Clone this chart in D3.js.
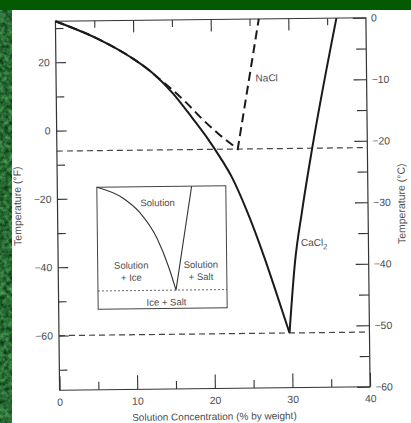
<!DOCTYPE html>
<html><head><meta charset="utf-8">
<script src="https://cdn.jsdelivr.net/npm/d3@7"></script>
<style>
body{margin:0;background:#fff}
svg{display:block}
text{font-family:"Liberation Sans",Arial,Helvetica,sans-serif}
</style>
</head><body>
<svg id="c" width="411" height="423"></svg>
<script>
// ---------- data (concentration % by weight, temperature °F) ----------
const cacl2IceLine  = [[0,32],[5.7,26.4],[9.6,21.3],[12.4,16.6],[15,10.6],[17.6,2.9],[19.4,-2.7],[21,-8.3],[22.5,-14.2],[24.4,-24.2],[26.6,-38],[28.1,-48.5],[29.7,-60]];
const cacl2SaltLine = [[29.7,-60],[30.5,-39.5],[31.5,-24.3],[32.9,-5.9],[36.2,32]];
const naclIceLine   = [[0,32],[5.7,26.4],[9.6,21.3],[12.4,16.6],[13,15.4],[15,11.5],[16.8,7.6],[18.9,2.6],[21,-1.8],[23.3,-6]];
const naclSaltLine  = [[23.3,-6],[26.2,32]];
const eutecticTempsF = [-6,-60];
const seriesLabels = ["NaCl","CaCl"];
const seriesLabelPos = [[25.7,13.7],[31.3,-34.6]];

// tick values
const xMinorTicks = [5,15,25,35];
const xMajorTicks = [0,10,20,30,40];
const fMinorTicks = [30,10,-10,-30,-50,-70];
const fMajorTicks = [20,0,-20,-40,-60];
const cMinorTicks = [-5,-15,-25,-35,-45,-55];
const cMajorTicks = [0,-10,-20,-30,-40,-50,-60];

// inset schematic (arbitrary 0-100 units)
const insetIceLine  = [[0,100],[20,91],[33,79],[46.5,57],[55,34],[60.5,15]];
const insetSaltLine = [[60.5,15],[73.5,100]];
const insetEutectic = 15;
const insetTexts = ["Solution","Solution","+ Ice","Solution","+ Salt","Ice + Salt"];
const insetTextPos = [[47,84],[26,33],[26,23],[80,33],[80,23],[53,2.5]];

// ---------- drawing ----------
const W = 411, H = 423;
const svg = d3.select("#c");
const defs = svg.append("defs");
const flt = defs.append("filter").attr("id","tex").attr("x",0).attr("y",0).attr("width","100%").attr("height","100%")
   .attr("color-interpolation-filters","sRGB");
flt.append("feTurbulence").attr("type","fractalNoise").attr("baseFrequency","0.22").attr("numOctaves",3).attr("seed",7).attr("result","n");
flt.append("feColorMatrix").attr("in","n").attr("type","matrix")
   .attr("values","0.4 0 0 0 -0.04  0.6 0 0 0 0.12  0.4 0 0 0 0.0  0 0 0 0 1");

svg.append("rect").attr("width",W).attr("height",H).attr("fill","#fff");
svg.append("rect").attr("x",0).attr("y",10).attr("width",12).attr("height",H-10).attr("filter","url(#tex)");
svg.append("rect").attr("x",0).attr("y",0).attr("width",W).attr("height",10).attr("fill","#035a03");

const L = 57.5, R = 368, T = 19.5, B = 388.5;
const x  = d3.scaleLinear().domain([0,40]).range([L,R]);
const yF = d3.scaleLinear().domain([-76,32]).range([B,T]);
const yC = d3.scaleLinear().domain([-60,0]).range([B,T]);

const g = svg.append("g").attr("transform","rotate(-0.65 212 204)");
const ink = "#1a1a1a", grey = "#4d4d4d";

// frame
g.append("rect").attr("x",L).attr("y",T).attr("width",R-L).attr("height",B-T)
 .attr("fill","none").attr("stroke","#333").attr("stroke-width",1.2);

function styleAxis(sel){
  sel.select(".domain").remove();
  sel.selectAll(".tick line").attr("stroke","#333").attr("stroke-width",1.1);
  sel.selectAll(".tick text").attr("fill",grey).attr("font-size",10.5)
     .attr("font-family",'"Liberation Sans",Arial,sans-serif');
}
// left (°F)
g.append("g").attr("transform",`translate(${L},0)`)
 .call(d3.axisLeft(yF).tickValues(fMinorTicks).tickSize(-8).tickFormat("")).call(styleAxis);
g.append("g").attr("transform",`translate(${L},0)`)
 .call(d3.axisLeft(yF).tickValues(fMajorTicks).tickSize(-10).tickPadding(6)).call(styleAxis);
// right (°C)
g.append("g").attr("transform",`translate(${R},0)`)
 .call(d3.axisRight(yC).tickValues(cMinorTicks).tickSize(-10).tickFormat("")).call(styleAxis);
g.append("g").attr("transform",`translate(${R},0)`)
 .call(d3.axisRight(yC).tickValues(cMajorTicks).tickSize(-13).tickPadding(5)).call(styleAxis);
// bottom
g.append("g").attr("transform",`translate(0,${B})`)
 .call(d3.axisBottom(x).tickValues(xMinorTicks).tickSize(-8).tickFormat("")).call(styleAxis);
g.append("g").attr("transform",`translate(0,${B})`)
 .call(d3.axisBottom(x).tickValues(xMajorTicks).tickSize(-14).tickPadding(8)).call(styleAxis);
// top
g.append("g").attr("transform",`translate(0,${T})`)
 .call(d3.axisTop(x).tickValues(xMinorTicks).tickSize(-7).tickFormat("")).call(styleAxis);
g.append("g").attr("transform",`translate(0,${T})`)
 .call(d3.axisTop(x).tickValues(xMajorTicks.slice(1,-1)).tickSize(-12).tickFormat("")).call(styleAxis);

// eutectic dashed lines
g.selectAll(".eut").data(eutecticTempsF).join("line").attr("class","eut")
 .attr("x1",L).attr("x2",R).attr("y1",d=>yF(d)).attr("y2",d=>yF(d))
 .attr("stroke","#444").attr("stroke-width",1.2).attr("stroke-dasharray","6,4");

const lineM = d3.line().x(d=>x(d[0])).y(d=>yF(d[1])).curve(d3.curveMonotoneX);
const lineL = d3.line().x(d=>x(d[0])).y(d=>yF(d[1]));

// CaCl2 solid
g.append("path").attr("d", lineM(cacl2IceLine) + lineM(cacl2SaltLine).replace(/^M/,"L"))
 .attr("fill","none").attr("stroke",ink).attr("stroke-width",2).attr("stroke-linejoin","miter");
// NaCl dashed
g.append("path").attr("d", lineM(naclIceLine) + lineL(naclSaltLine).replace(/^M/,"L"))
 .attr("fill","none").attr("stroke",ink).attr("stroke-width",2).attr("stroke-dasharray","9,5");

// series labels
g.append("text").attr("x",x(seriesLabelPos[0][0])).attr("y",yF(seriesLabelPos[0][1]))
 .attr("font-size",10).attr("fill",grey).text(seriesLabels[0]);
const ct = g.append("text").attr("x",x(seriesLabelPos[1][0])).attr("y",yF(seriesLabelPos[1][1]))
 .attr("font-size",10).attr("fill",grey).text(seriesLabels[1]);
ct.append("tspan").attr("font-size",7.5).attr("dy",3.5).text("2");

// inset
const ix = d3.scaleLinear().domain([0,100]).range([97,226]);
const iy = d3.scaleLinear().domain([0,100]).range([308,186]);
const ins = g.append("g");
ins.append("rect").attr("x",ix(0)).attr("y",iy(100)).attr("width",ix(100)-ix(0)).attr("height",iy(0)-iy(100))
   .attr("fill","#fff").attr("stroke","#444").attr("stroke-width",1);
ins.append("line").attr("x1",ix(0)).attr("x2",ix(100)).attr("y1",iy(insetEutectic)).attr("y2",iy(insetEutectic))
   .attr("stroke","#555").attr("stroke-width",0.9).attr("stroke-dasharray","2,2");
const iline = d3.line().x(d=>ix(d[0])).y(d=>iy(d[1])).curve(d3.curveMonotoneX);
ins.append("path").attr("d", iline(insetIceLine) + d3.line().x(d=>ix(d[0])).y(d=>iy(d[1]))(insetSaltLine).replace(/^M/,"L"))
   .attr("fill","none").attr("stroke","#333").attr("stroke-width",1.1);
ins.selectAll(".it").data(insetTexts).join("text").attr("class","it")
   .attr("x",(d,i)=>ix(insetTextPos[i][0])).attr("y",(d,i)=>iy(insetTextPos[i][1]))
   .attr("text-anchor","middle").attr("font-size",9.5).attr("fill",grey).text(d=>d);

// axis titles
g.append("text").attr("transform","translate(21,204) rotate(-90)").attr("text-anchor","middle")
 .attr("font-size",10.5).attr("fill",grey).text("Temperature (°F)");
g.append("text").attr("transform","translate(405,206) rotate(-90)").attr("text-anchor","middle")
 .attr("font-size",10.5).attr("fill",grey).text("Temperature (°C)");
g.append("text").attr("x",212).attr("y",420).attr("text-anchor","middle")
 .attr("font-size",10).attr("fill",grey).text("Solution Concentration (% by weight)");
</script>
</body></html>
